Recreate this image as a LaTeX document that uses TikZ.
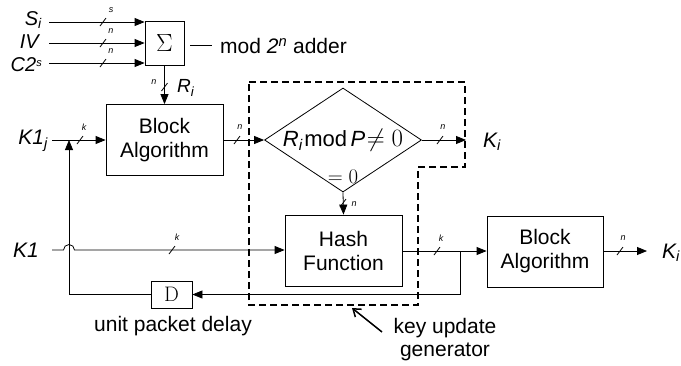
\documentclass[tikz,border=0pt]{standalone}
\usepackage{fontspec}
\newfontfamily\hv{Liberation Sans}
\usetikzlibrary{arrows.meta,shapes.geometric}
\tikzset{
  ln/.style={line width=0.8pt},
  arr/.style={ln,-{Triangle[length=10pt,width=8pt]}},
  blockbox/.style={draw,ln,minimum width=117pt,minimum height=71pt,inner sep=0pt,align=center,
    font=\hv\fontsize{21}{24}\selectfont},
  sig/.style={font=\hv\itshape\fontsize{21}{22}\selectfont,inner sep=0pt},
  tinylbl/.style={font=\hv\itshape\fontsize{9}{10}\selectfont,inner sep=0.5pt},
  note/.style={font=\hv\fontsize{21}{24}\selectfont,inner sep=0pt,align=center},
  busmark/.pic={\draw[ln] (-3,4) -- (3,-4);},
  kug/.style={dash pattern=on 7pt off 4pt,line width=2pt}
}
\begin{document}
\begin{tikzpicture}[x=1pt,y=-1pt]
\useasboundingbox (0,0) rectangle (681,365);

% adder
\node[draw,ln,minimum width=39pt,minimum height=44pt,inner sep=0pt,font=\fontsize{30}{32}\selectfont] (add) at (164.5,43) {$\Sigma$};
\node[sig,anchor=east,font=\hv\itshape\fontsize{20}{21}\selectfont] (si) at (42,20) {S\textsubscript{i}};
\node[sig,anchor=east,font=\hv\itshape\fontsize{20}{21}\selectfont] (iv) at (39,42) {IV};
\node[sig,anchor=east,font=\hv\itshape\fontsize{20}{21}\selectfont] (c2) at (42,65) {C2\raisebox{0.55ex}{\fontsize{11}{12}\selectfont s}};
\coordinate (si0) at (49,22);
\coordinate (iv0) at (49,43);
\coordinate (c20) at (49,63);
\draw[arr] (si0) -- (si0 -| add.west);
\draw[arr] (iv0) -- (iv0 -| add.west);
\draw[arr] (c20) -- (c20 -| add.west);
\pic at (103,22) {busmark};
\pic at (103,43) {busmark};
\pic at (103,63) {busmark};
\node[tinylbl] (ts) at (111,10) {s};
\node[tinylbl] (tn1) at (111,31) {n};
\node[tinylbl] (tn2) at (111,51) {n};
\coordinate (dash0) at (190,45);
\draw[ln] (dash0) -- ++(22,0);
\node[note,anchor=west] (addtxt) at (220,46) {mod {\itshape 2\textsuperscript{n}} adder};

% first block algorithm
\node[blockbox] (ba1) at (164.5,140) {Block\\Algorithm};
\draw[arr] (add.south) -- (ba1.north);
\pic at (164.5,87) {busmark};
\node[tinylbl] (tnr) at (154,82) {n};
\node[sig,anchor=west,font=\hv\itshape\fontsize{19}{20}\selectfont] (ri) at (177,88) {R\textsubscript{i}};

\node[sig,anchor=east] (k1j) at (48,141) {K1\textsubscript{j}};
\coordinate (k1j0) at (52,140);
\draw[arr] (k1j0) -- (ba1.west);
\pic at (80,140) {busmark};
\node[tinylbl] (tk1) at (84,127) {k};

% decision
\node[draw,ln,diamond,aspect=1.51,minimum width=157pt,minimum height=104pt,inner sep=0pt] (dia) at (343,140)
  {{\hv\itshape\fontsize{22}{24}\selectfont R\textsubscript{i}}\,{\hv\fontsize{22}{24}\selectfont mod} {\hv\itshape\fontsize{22}{24}\selectfont P}\,{\fontsize{24}{26}\selectfont$\neq 0$}};
\node[inner sep=0pt,font=\fontsize{22}{24}\selectfont] (eq0) at (343,177) {$=0$};
\draw[arr] (ba1.east) -- (dia.west);
\pic at (237,140) {busmark};
\node[tinylbl] (tn3) at (240,127) {n};
\coordinate (kiout) at (466,140);
\draw[arr] (dia.east) -- (kiout);
\pic at (440,140) {busmark};
\node[tinylbl] (tn4) at (443,127) {n};
\node[sig,anchor=west] (ki1) at (483,142) {K\textsubscript{i}};

% hash function
\node[blockbox,minimum height=71pt] (hash) at (343.5,250.5) {Hash\\Function};
\draw[arr] (dia.south) -- (hash.north);
\pic at (343,203) {busmark};
\node[tinylbl] (tn5) at (354,204) {n};

\node[sig,anchor=east] (k1) at (39,250) {K1};
\coordinate (k10) at (52,250);
\draw[arr] (k10) -- (63.5,250) arc[start angle=180,end angle=0,radius=5.5pt] -- (hash.west |- 0,250);
\pic at (172,250) {busmark};
\node[tinylbl] (tk2) at (177,237) {k};

% second block algorithm
\node[blockbox,minimum width=116pt,minimum height=71pt] (ba2) at (545,251.5) {Block\\Algorithm};
\draw[arr] (hash.east |- 0,251) -- (ba2.west |- 0,251);
\pic at (437,251) {busmark};
\node[tinylbl] (tk3) at (441,238) {k};
\coordinate (kout2) at (647,251);
\draw[arr] (ba2.east |- 0,251) -- (kout2);
\pic at (620,251) {busmark};
\node[tinylbl] (tn6) at (623,238) {n};
\node[sig,anchor=west] (ki2) at (662,253) {K\textsubscript{i}};

% feedback through the delay
\node[draw,ln,minimum width=41pt,minimum height=27pt,inner sep=0pt,font=\fontsize{21}{22}\selectfont] (del) at (171.5,294.5) {D};
\coordinate (tap) at (460,251);
\coordinate (fbr) at (460,294.5);
\coordinate (fbl) at (69,294.5);
\coordinate (fbt) at (69,140);
\draw[arr] (tap) -- (fbr) -- (del.east);
\draw[arr] (del.west) -- (fbl) -- (fbt);
\node[note] (deltxt) at (173,326) {unit packet delay};

% key update generator boundary
\draw[kug] (249,82) -- (465,82) -- (465,167) -- (418,167) -- (418,305) -- (249,305) -- cycle;
\coordinate (kugtip) at (352,308);
\coordinate (kugtail) at (382,332);
\draw[line width=1.5pt,-{Straight Barb[length=7pt,width=10pt]}] (kugtail) -- (kugtip);
\node[note] (kugtxt) at (445,340) {key update\\[-1pt]generator};
\end{tikzpicture}
\end{document}
